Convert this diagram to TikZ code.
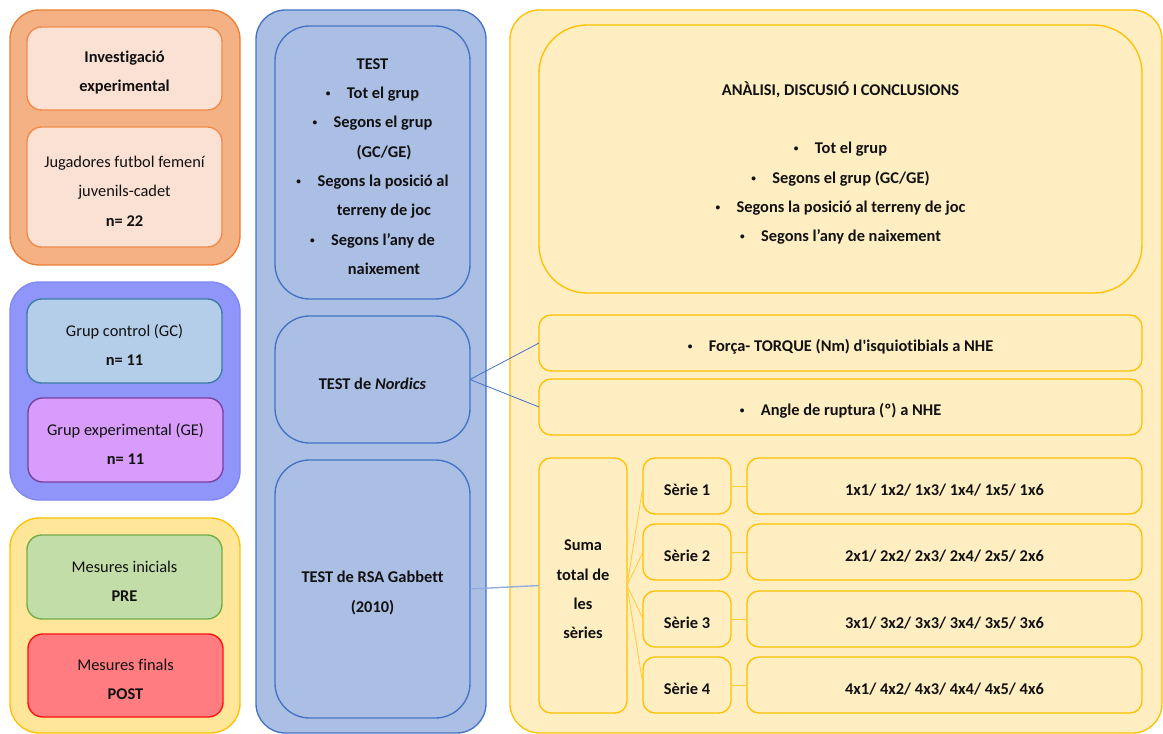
\documentclass[tikz,border=0pt]{standalone}
\usepackage{fontspec}
\setmainfont{Carlito}[Ligatures={TeXOff,CommonOff}]
\definecolor{orOut}{HTML}{F4B183}
\definecolor{orOutD}{HTML}{ED7D31}
\definecolor{orIn}{HTML}{FBE1D3}
\definecolor{orInD}{HTML}{F08A4B}
\definecolor{puOut}{HTML}{8F95F9}
\definecolor{puOutD}{HTML}{8088F2}
\definecolor{gcF}{HTML}{B4CDE9}
\definecolor{gcD}{HTML}{3C7BA8}
\definecolor{geF}{HTML}{D89CFA}
\definecolor{geD}{HTML}{7A3F9F}
\definecolor{yeOut}{HTML}{FFE699}
\definecolor{yeD}{HTML}{FFC000}
\definecolor{preF}{HTML}{C3DDA9}
\definecolor{preD}{HTML}{70AD47}
\definecolor{postF}{HTML}{FF7C80}
\definecolor{postD}{HTML}{FF1010}
\definecolor{blF}{HTML}{ABBEE4}
\definecolor{blD}{HTML}{4472C4}
\definecolor{ltY}{HTML}{FFEEC2}
\definecolor{txt}{HTML}{111111}
% #1 name, #2 box style, #3 text style, #4..#7 x1 y1 x2 y2 (px), #8 text
\newcommand\bx[8]{%
  \node[#2, minimum width={(#6-#4)*0.75pt}, minimum height={(#7-#5)*0.75pt}] (#1) at ({(#4+#6)/2},{(#5+#7)/2}) {};%
  \node[#3] (#1-t) at ({(#4+#6)/2},{(#5+#7)/2+4}) {#8};}
\newcommand\bul{\raisebox{0.12em}{\fontsize{7}{7}\selectfont\textbullet}\hspace{1em}}
\tikzset{
  every node/.style={inner sep=0pt, outer sep=0pt, align=center, text=txt,
    font=\fontsize{12.3}{22}\selectfont},
  base/.style={rectangle, draw, line width=1pt},
  outerbox/.style={base, rounded corners=22pt},
  orouter/.style={outerbox, fill=orOut, draw=orOutD},
  orinner/.style={base, rounded corners=11pt, fill=orIn, draw=orInD},
  puouter/.style={outerbox, fill=puOut, draw=puOutD},
  gcbox/.style={base, rounded corners=11pt, fill=gcF, draw=gcD},
  gebox/.style={base, rounded corners=11pt, fill=geF, draw=geD},
  yeouter/.style={outerbox, fill=yeOut, draw=yeD},
  prebox/.style={base, rounded corners=11pt, fill=preF, draw=preD},
  postbox/.style={base, rounded corners=11pt, fill=postF, draw=postD},
  blouter/.style={outerbox, fill=blF, draw=blD},
  blinner/.style={base, rounded corners=26pt, fill=blF, draw=blD},
  rtouter/.style={outerbox, fill=ltY, draw=yeD},
  ybig/.style={base, rounded corners=36pt, fill=ltY, draw=yeD},
  ysmall/.style={base, rounded corners=9pt, fill=ltY, draw=yeD},
  bf/.style={font=\bfseries\fontsize{12.3}{22}\selectfont},
  rg/.style={},
  blueline/.style={draw=blD, line width=0.6pt},
  rsaline/.style={draw=blD!60, line width=1pt},
  yline/.style={draw=yeD!80, line width=0.6pt}
}
\begin{document}
\begin{tikzpicture}[x=0.75pt, y=-0.75pt]
\useasboundingbox (0,0) rectangle (1163,734);
% left column
\node[orouter, minimum width=172.5pt, minimum height=191.25pt] (orO) at (125,137.5) {};
\bx{inv}{orinner}{bf}{27}{27}{222}{110}{Investigació\\experimental}
\bx{jug}{orinner}{rg}{27}{127}{222}{247}{Jugadores futbol femení\\juvenils-cadet\\\textbf{n= 22}}
\node[puouter, minimum width=172.5pt, minimum height=163.5pt] (grO) at (125,391) {};
\bx{gc}{gcbox}{rg}{27}{299}{222}{383}{Grup control (GC)\\\textbf{n= 11}}
\bx{ge}{gebox}{rg}{28}{398}{223}{482}{Grup experimental (GE)\\\textbf{n= 11}}
\node[yeouter, minimum width=172.5pt, minimum height=161.25pt] (meO) at (125,625.5) {};
\bx{pre}{prebox}{rg}{27}{535}{222}{619}{Mesures inicials\\\textbf{PRE}}
\bx{post}{postbox}{rg}{28}{634}{223}{717}{Mesures finals\\\textbf{POST}}
% middle column
\node[blouter, minimum width=172.5pt, minimum height=542.25pt] (miO) at (371,371.5) {};
\bx{test}{blinner}{bf}{275}{26}{470}{299}{TEST\\\bul Tot el grup\\\bul Segons el grup\\\hspace{1.4em}(GC/GE)\\\bul Segons la posició al\\\hspace{1.4em}terreny de joc\\\bul Segons l’any de\\\hspace{1.4em}naixement}
\bx{nord}{blinner}{bf}{275}{316}{470}{443}{TEST de \textit{Nordics}}
\bx{rsa}{blinner}{bf}{275}{460}{470}{718}{TEST de RSA Gabbett\\(2010)}
% right column
\node[rtouter, minimum width=489pt, minimum height=542.25pt] (rtO) at (836,371.5) {};
\bx{anal}{ybig}{bf}{539}{25}{1142}{293}{ANÀLISI, DISCUSIÓ I CONCLUSIONS\\[22pt]\bul Tot el grup\\\bul Segons el grup (GC/GE)\\\bul Segons la posició al terreny de joc\\\bul Segons l’any de naixement}
\bx{forca}{ysmall}{bf}{539}{315}{1142}{371}{\bul Força- TORQUE (Nm) d'isquiotibials a NHE}
\bx{angle}{ysmall}{bf}{539}{379}{1142}{435}{\bul Angle de ruptura (º) a NHE}
\bx{suma}{ysmall}{bf}{539}{458}{627}{713}{Suma\\total de\\les\\sèries}
\bx{s1}{ysmall}{bf}{643}{458}{731}{514}{Sèrie 1}
\bx{s2}{ysmall}{bf}{643}{524}{731}{580}{Sèrie 2}
\bx{s3}{ysmall}{bf}{643}{591}{731}{647}{Sèrie 3}
\bx{s4}{ysmall}{bf}{643}{657}{731}{713}{Sèrie 4}
\bx{r1}{ysmall}{bf}{747}{458}{1142}{514}{1x1/ 1x2/ 1x3/ 1x4/ 1x5/ 1x6}
\bx{r2}{ysmall}{bf}{747}{524}{1142}{580}{2x1/ 2x2/ 2x3/ 2x4/ 2x5/ 2x6}
\bx{r3}{ysmall}{bf}{747}{591}{1142}{647}{3x1/ 3x2/ 3x3/ 3x4/ 3x5/ 3x6}
\bx{r4}{ysmall}{bf}{747}{657}{1142}{713}{4x1/ 4x2/ 4x3/ 4x4/ 4x5/ 4x6}
% connectors
\draw[blueline] (nord.east) -- (forca.west);
\draw[blueline] (nord.east) -- (angle.west);
\draw[rsaline] (rsa.east) -- (suma.west);
\foreach \s in {s1,s2,s3,s4}{\draw[yline] (suma.east) -- (\s.west);}
\draw[yline] (s1.east) -- (r1.west);
\draw[yline] (s2.east) -- (r2.west);
\draw[yline] (s3.east) -- (r3.west);
\draw[yline] (s4.east) -- (r4.west);
\end{tikzpicture}
\end{document}
